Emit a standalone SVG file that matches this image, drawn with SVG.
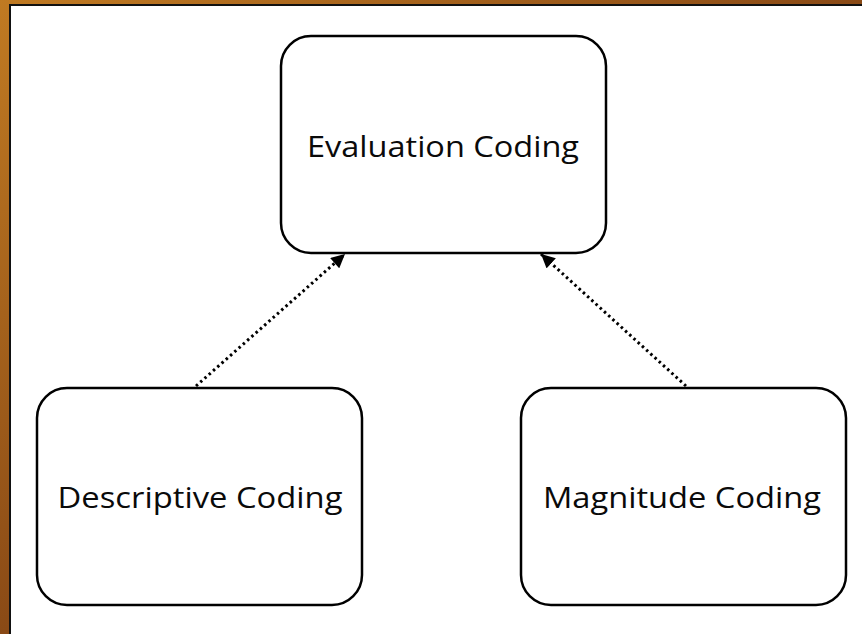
<svg xmlns="http://www.w3.org/2000/svg" width="862" height="634" viewBox="0 0 862 634">
<defs>
<style>
.node rect{fill:#fff;stroke:#000;stroke-width:2.5}
.node text{font-family:"Open Sans","Noto Sans","Liberation Sans",sans-serif;font-size:30px;fill:#0a0a0a;text-anchor:middle}
.conn line{stroke:#000;stroke-width:3;stroke-dasharray:2.5 3.2}
</style>
<marker id="ah" viewBox="0 0 10 10" refX="10" refY="5" markerWidth="4.8" markerHeight="4.6" orient="auto" markerUnits="strokeWidth">
<path d="M0,0 L10,5 L0,10 z" fill="#000"/>
</marker>
<linearGradient id="bg" x1="0" y1="0" x2="1" y2="1">
<stop offset="0" stop-color="#c07a22"/>
<stop offset="0.5" stop-color="#8a4a16"/>
<stop offset="1" stop-color="#6a3510"/>
</linearGradient>
</defs>
<rect x="0" y="0" width="862" height="634" fill="url(#bg)"/>
<rect x="10" y="5" width="860" height="640" fill="#fff" stroke="#111" stroke-width="2"/>
<g class="conn">
<line x1="196" y1="386" x2="345" y2="254" marker-end="url(#ah)"/>
<line x1="686" y1="386" x2="541" y2="254" marker-end="url(#ah)"/>
</g>
<g id="evaluation" class="node">
<rect x="281" y="36" width="325" height="217" rx="30"/>
<text x="443" y="157" textLength="272" lengthAdjust="spacingAndGlyphs">Evaluation Coding</text>
</g>
<g id="descriptive" class="node">
<rect x="37" y="388" width="325" height="217" rx="30"/>
<text x="200" y="508" textLength="285" lengthAdjust="spacingAndGlyphs">Descriptive Coding</text>
</g>
<g id="magnitude" class="node">
<rect x="521" y="388" width="325" height="217" rx="30"/>
<text x="682" y="508" textLength="278" lengthAdjust="spacingAndGlyphs">Magnitude Coding</text>
</g>
</svg>
